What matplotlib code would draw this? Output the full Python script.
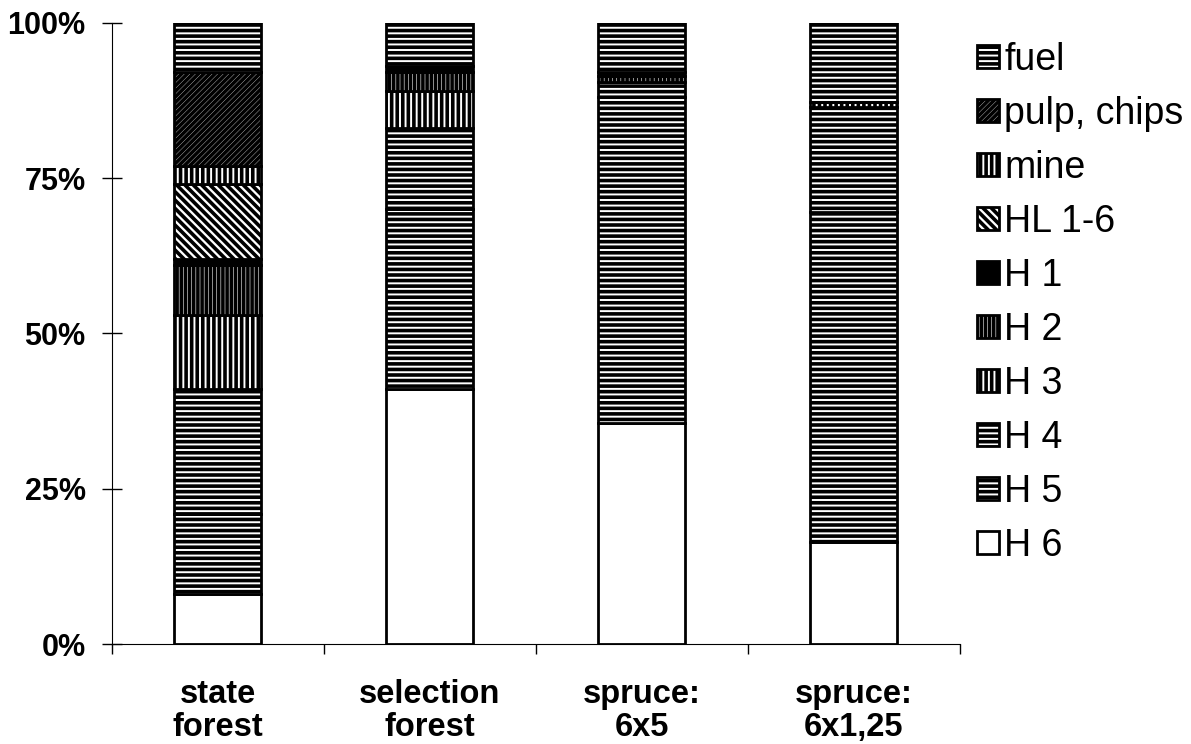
import matplotlib.pyplot as plt
from matplotlib.ticker import FuncFormatter

plt.rcParams['font.family'] = ['Liberation Sans', 'DejaVu Sans']
plt.rcParams['hatch.linewidth'] = 2.6

# stand types and share of assortments (%)
categories = ['state\nforest', 'selection\nforest', 'spruce:\n6x5', 'spruce:\n6x1,25']
h6 = [8, 41, 35.5, 16.5]
h5 = [13, 29, 52.5, 53]
h4 = [20, 13, 2.5, 17]
h3 = [12, 6, 0, 0.8]
h2 = [8, 3, 1, 0]
h1 = [1, 1, 0.5, 0]
hl = [12, 0, 0, 0]
mine = [3, 0, 0, 0]
pulp = [15, 0, 0, 0]
fuel = [8, 7, 8, 12.7]

series = [
    ('H 6', h6, 'white', ''),
    ('H 5', h5, 'white', '---'),
    ('H 4', h4, 'white', '---'),
    ('H 3', h3, 'white', '|||'),
    ('H 2', h2, 'white', '||||'),
    ('H 1', h1, 'black', ''),
    ('HL 1-6', hl, 'white', '\\\\\\\\'),
    ('mine', mine, 'white', '|||'),
    ('pulp, chips', pulp, 'white', '//////'),
    ('fuel', fuel, 'white', '---'),
]

fig = plt.figure(figsize=(11.91, 7.44), dpi=100)
ax = fig.add_axes([0.094, 0.1344, 0.712, 0.835])

x = range(len(categories))
bottom = [0] * len(categories)
for name, vals, fc, hatch in series:
    ax.bar(x, vals, width=0.41, bottom=bottom, color=fc, hatch=hatch,
           edgecolor='black', linewidth=2, label=name)
    bottom = [b + v for b, v in zip(bottom, vals)]

ax.set_xlim(-0.5, 3.5)
ax.set_ylim(0, 100)
ax.set_yticks([0, 25, 50, 75, 100])
ax.yaxis.set_major_formatter(FuncFormatter(lambda v, p: f'{v:.0f}%'))
ax.set_xticks(list(x))
ax.set_xticklabels(categories, fontsize=23.5, fontweight='bold', linespacing=1.1)
ax.set_xticks([-0.5, 0.5, 1.5, 2.5, 3.5], minor=True)
ax.tick_params(axis='x', which='major', length=0, pad=25)
ax.tick_params(axis='x', which='minor', length=7, width=1, direction='out')
ax.tick_params(axis='y', length=14, width=1, direction='inout', pad=12,
               labelsize=22)
for lab in ax.get_yticklabels():
    lab.set_fontweight('bold')

ax.spines['top'].set_visible(False)
ax.spines['right'].set_visible(False)

handles, labels = ax.get_legend_handles_labels()
fig.legend(handles[::-1], labels[::-1], loc='upper left',
           bbox_to_anchor=(0.8203, 0.944), frameon=False, fontsize=27,
           handlelength=0.58, handleheight=0.6, handletextpad=0.15,
           labelspacing=0.48, borderaxespad=0, borderpad=0)

plt.savefig('out.png', dpi=100)
